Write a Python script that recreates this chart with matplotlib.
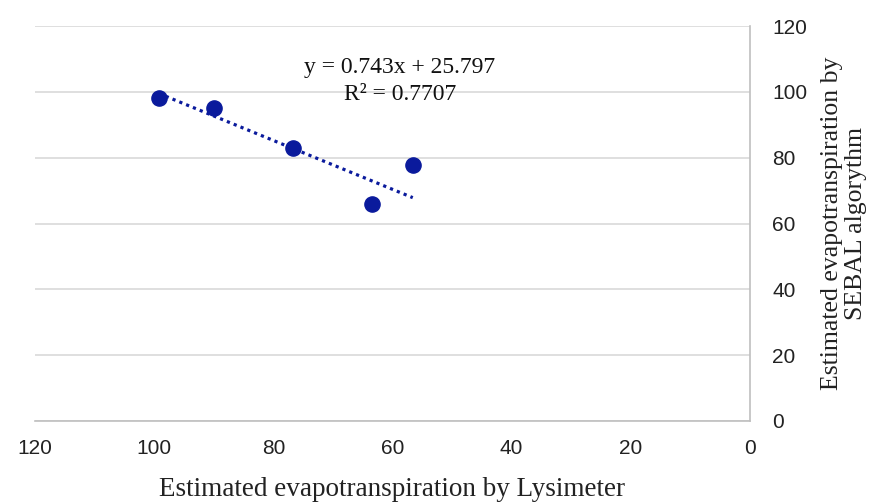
import matplotlib
matplotlib.use("Agg")
import matplotlib.pyplot as plt
import numpy as np

# data
lysimeter = [99.2, 89.9, 76.7, 63.5, 56.6]
sebal = [98.2, 95.2, 83.0, 65.8, 77.9]
slope, intercept = 0.743, 25.797
eq_text = "y = 0.743x + 25.797"
r2_text = "R\u00b2 = 0.7707"
ticks = [0, 20, 40, 60, 80, 100, 120]

sans = ["Liberation Sans Narrow", "Liberation Sans", "DejaVu Sans"]
serif = ["Liberation Serif", "DejaVu Serif"]
blue = "#0a1a9c"
grid_c = "#d9d9d9"

fig = plt.figure(figsize=(8.79, 5.04), dpi=100)
ax = fig.add_axes([35 / 879, 1 - 421 / 504, (750 - 35) / 879, (421 - 26) / 504])

ax.scatter(lysimeter, sebal, s=120, color=blue, zorder=3)
xs = np.array([max(lysimeter), min(lysimeter)])
ax.plot(xs, slope * xs + intercept, linestyle=(0, (1, 1.3)), color=blue,
        linewidth=2.3, zorder=2)

ax.set_xlim(120, 0)
ax.set_ylim(0, 120)
ax.set_xticks(ticks)
ax.set_yticks(ticks)
ax.yaxis.tick_right()
ax.yaxis.set_label_position("right")
ax.tick_params(length=0, labelsize=15, colors="#222222")
ax.tick_params(axis="x", pad=13)
ax.tick_params(axis="y", pad=16)
for lab in ax.get_xticklabels() + ax.get_yticklabels():
    lab.set_family(sans)
ax.grid(axis="y", color=grid_c, linewidth=1.2)
ax.set_axisbelow(True)
for side in ["top", "left"]:
    ax.spines[side].set_visible(False)
for side in ["bottom", "right"]:
    ax.spines[side].set_color("#bfbfbf")
    ax.spines[side].set_linewidth(1.2)

ax.set_xlabel("Estimated evapotranspiration by Lysimeter", family=serif,
              fontsize=19.5, color="#222222", labelpad=14)
ax.set_ylabel("Estimated evapotranspiration by\nSEBAL algorythm", family=serif,
              fontsize=18.5, color="#222222", labelpad=10, linespacing=1.1)

fig.text(400 / 879, 1 - 68 / 504, eq_text, family=serif, fontsize=17,
         ha="center", va="center", color="#111111")
fig.text(400 / 879, 1 - 95 / 504, r2_text, family=serif, fontsize=17,
         ha="center", va="center", color="#111111")

fig.savefig("out.png", dpi=100)
